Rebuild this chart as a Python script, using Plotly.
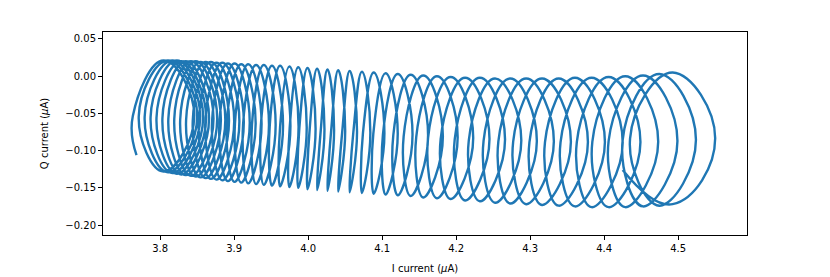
import plotly.graph_objects as go

# Per-loop extremes (I in uA, Q in uA)
loop_left_I = [3.763, 3.771, 3.779, 3.787, 3.795, 3.803, 3.811, 3.819, 3.827, 3.835,
               3.844, 3.852, 3.861, 3.870, 3.880, 3.890, 3.901, 3.912, 3.924, 3.936,
               3.948, 3.962, 3.975, 3.988, 4.002, 4.017, 4.031, 4.046, 4.061, 4.074,
               4.088, 4.101, 4.115, 4.129, 4.146, 4.162, 4.179, 4.198, 4.217, 4.237,
               4.257, 4.277, 4.299, 4.320, 4.341, 4.363, 4.384, 4.406, 4.425, 4.435]
loop_right_I = [3.846, 3.850, 3.854, 3.858, 3.862, 3.866, 3.872, 3.877, 3.882, 3.888,
                3.893, 3.900, 3.907, 3.913, 3.921, 3.929, 3.937, 3.947, 3.956, 3.966,
                3.976, 3.987, 3.998, 4.010, 4.022, 4.035, 4.050, 4.066, 4.084, 4.103,
                4.121, 4.141, 4.162, 4.182, 4.202, 4.223, 4.245, 4.266, 4.288, 4.309,
                4.332, 4.355, 4.378, 4.401, 4.425, 4.449, 4.473, 4.499, 4.524, 4.550]
loop_top_Q = [0.021, 0.021, 0.021, 0.021, 0.020, 0.020, 0.020, 0.020, 0.019, 0.019,
              0.019, 0.018, 0.018, 0.017, 0.017, 0.016, 0.016, 0.015, 0.015, 0.014,
              0.014, 0.013, 0.012, 0.011, 0.010, 0.009, 0.008, 0.007, 0.006, 0.005,
              0.004, 0.003, 0.002, 0.001, 0.000, -0.001, -0.002, -0.002, -0.003, -0.003,
              -0.003, -0.003, -0.003, -0.002, -0.002, -0.001, 0.000, 0.001, 0.003, 0.005]
loop_bottom_Q = [-0.128, -0.129, -0.130, -0.131, -0.132, -0.133, -0.134, -0.135, -0.136, -0.137,
                 -0.138, -0.139, -0.140, -0.141, -0.142, -0.143, -0.144, -0.145, -0.146, -0.147,
                 -0.148, -0.149, -0.150, -0.152, -0.153, -0.154, -0.155, -0.156, -0.157, -0.158,
                 -0.159, -0.160, -0.161, -0.163, -0.164, -0.165, -0.167, -0.168, -0.170, -0.171,
                 -0.172, -0.173, -0.174, -0.175, -0.176, -0.176, -0.176, -0.175, -0.174, -0.172]
start_point = (3.768, -0.106)
end_point = (4.425, -0.126)

x_ticks = [3.8, 3.9, 4.0, 4.1, 4.2, 4.3, 4.4, 4.5]
x_tick_labels = ["3.8", "3.9", "4.0", "4.1", "4.2", "4.3", "4.4", "4.5"]
y_ticks = [0.05, 0.0, -0.05, -0.10, -0.15, -0.20]
y_tick_labels = ["0.05", "0.00", "\u22120.05", "\u22120.10", "\u22120.15", "\u22120.20"]

xs = [start_point[0]]
ys = [start_point[1]]
for L, R, T, B in zip(loop_left_I, loop_right_I, loop_top_Q, loop_bottom_Q):
    mid = (T + B) / 2
    c = (L + R) / 2
    xs += [L, c, R, c]
    ys += [mid, T, mid, B]
xs.append(end_point[0])
ys.append(end_point[1])

fig = go.Figure()
fig.add_trace(go.Scatter(x=xs, y=ys, mode="lines",
                         line=dict(color="#1f77b4", width=2.4, shape="spline", smoothing=1.3),
                         showlegend=False, hoverinfo="skip"))

axis_common = dict(showline=True, linecolor="black", linewidth=1, mirror=True,
                   ticks="outside", ticklen=4, tickwidth=1, tickcolor="black",
                   showgrid=False, zeroline=False, automargin=False,
                   tickfont=dict(family="DejaVu Sans", size=10, color="black"))

fig.update_layout(
    width=830, height=277,
    margin=dict(l=95, r=91, t=24, b=50),
    paper_bgcolor="white", plot_bgcolor="white",
    xaxis=dict(range=[3.7227, 4.593], tickvals=x_ticks, ticktext=x_tick_labels,
               title=dict(text="I current (<i>\u03bc</i>A)", standoff=11,
                          font=dict(family="DejaVu Sans", size=10, color="black")),
               **axis_common),
    yaxis=dict(range=[-0.2134, 0.0594], tickvals=y_ticks, ticktext=y_tick_labels,
               title=dict(text="Q current (<i>\u03bc</i>A)", standoff=14,
                          font=dict(family="DejaVu Sans", size=10, color="black")),
               **axis_common),
)

fig.write_html("out.html")
